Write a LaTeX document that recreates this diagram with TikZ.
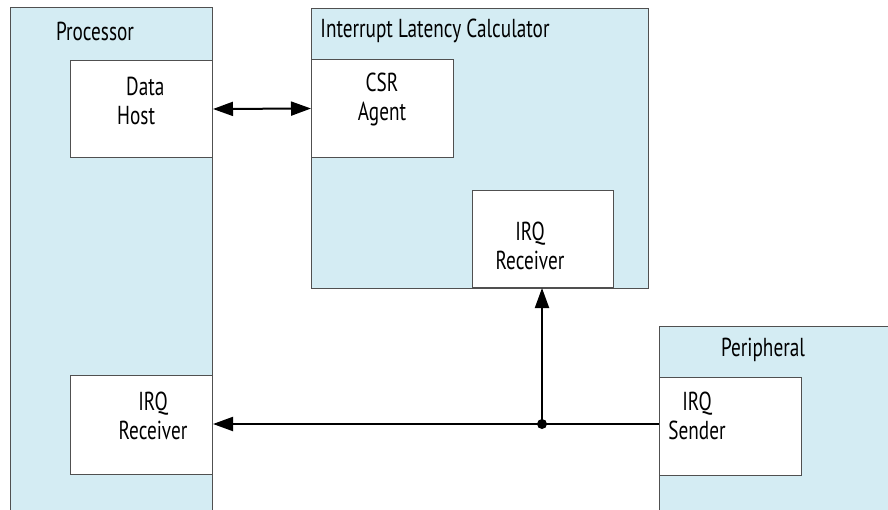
\documentclass[tikz,border=0pt]{standalone}
\usepackage{fontspec}
\setmainfont[FakeStretch=0.74]{PT Sans}
\usetikzlibrary{arrows.meta}
\definecolor{blk}{RGB}{212,236,243}
\definecolor{edge}{RGB}{80,80,80}
\begin{document}
\begin{tikzpicture}[x=1pt,y=-1pt,
  outer/.style={draw=edge, fill=blk, line width=1pt, inner sep=0, anchor=north west},
  innerbox/.style={draw=edge, fill=white, line width=1pt, inner sep=0, anchor=north west},
  lbl/.style={font=\fontsize{26}{29}\selectfont, inner sep=0, align=center},
  conn/.style={line width=2pt, black},
  tip/.style={-{Triangle[length=20pt,width=14pt]}},
  tips/.style={{Triangle[length=20pt,width=14pt]}-{Triangle[length=20pt,width=14pt]}}]
\path[use as bounding box] (0,0) rectangle (888,509);
\clip (0,0) rectangle (888,509);
% outer blocks
\node[outer, minimum width=202pt, minimum height=520pt] (proc) at (10,7) {};
\node[outer, minimum width=337pt, minimum height=280pt] (ilc) at (311,8) {};
\node[outer, minimum width=250pt, minimum height=200pt] (peri) at (659,326) {};
% inner blocks
\node[innerbox, minimum width=142pt, minimum height=97pt] (dh) at (70,60) {};
\node[innerbox, minimum width=142pt, minimum height=98pt] (csr) at (311,59) {};
\node[innerbox, minimum width=141pt, minimum height=97pt] (irqc) at (472,190) {};
\node[innerbox, minimum width=142pt, minimum height=99pt] (irqp) at (70,375) {};
\node[innerbox, minimum width=142pt, minimum height=98pt] (snd) at (659,377) {};
% labels
\node[lbl] (tproc) at (95,31) {Processor};
\node[lbl] (tilc) at (435,31) {Interrupt Latency Calculator};
\node[lbl] (tperi) at (763,350) {Peripheral};
\node[lbl, align=left, anchor=west] (tdh) at (117,101) {\hspace*{9pt}Data\\Host};
\node[lbl] (tcsr) at (382,99) {CSR\\Agent};
\node[lbl] (tirqc) at (530,246) {IRQ\\Receiver};
\node[lbl] (tirqp) at (153,416) {IRQ\\Receiver};
\node[lbl] (tsnd) at (697,416) {IRQ\\Sender};
% connectors
\node[circle, fill=black, inner sep=0, minimum size=10pt] (dot) at (542,424) {};
\draw[conn, tips] (dh.east) -- (csr.west);
\draw[conn, tip] (snd.west |- dot) -- (irqp.east |- dot);
\draw[conn, tip] (dot.center) -- (dot |- irqc.south);
\end{tikzpicture}
\end{document}
